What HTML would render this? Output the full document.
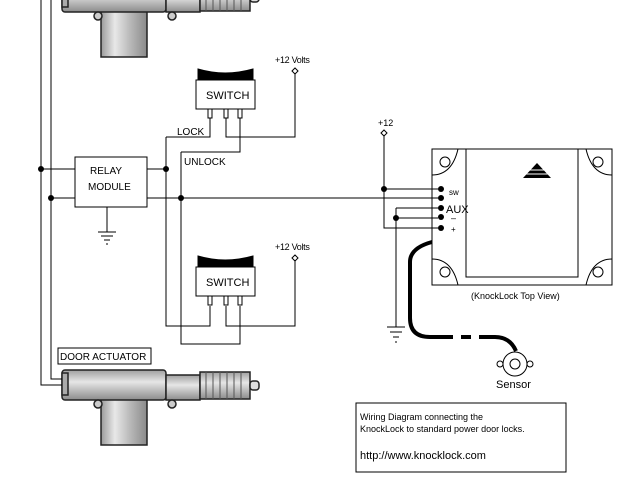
<!DOCTYPE html>
<html><head><style>body{margin:0;background:#fff}svg{display:block}text{font-family:"Liberation Sans",sans-serif;fill:#000}</style></head><body>
<svg width="640" height="480" viewBox="0 0 640 480" xmlns="http://www.w3.org/2000/svg">
<defs>
<linearGradient id="g" x1="0" y1="0" x2="1" y2="0"><stop offset="0" stop-color="#9a9a9a"/><stop offset="0.3" stop-color="#e8e8e8"/><stop offset="0.6" stop-color="#bdbdbd"/><stop offset="1" stop-color="#8a8a8a"/></linearGradient>
<linearGradient id="gv" x1="0" y1="0" x2="0" y2="1"><stop offset="0" stop-color="#a0a0a0"/><stop offset="0.4" stop-color="#e6e6e6"/><stop offset="1" stop-color="#8c8c8c"/></linearGradient>
<g id="act" stroke="#222" stroke-width="1.5">
<rect x="101" y="395" width="46" height="50" fill="url(#g)"/>
<rect x="62" y="370" width="104" height="30" fill="url(#gv)" rx="3"/>
<rect x="166" y="375" width="34" height="25" fill="url(#gv)"/>
<path d="M200 372 L250 372 L250 399 L200 399 Z" fill="url(#gv)"/>
<path d="M206 372v27M213 372v27M220 372v27M227 372v27M234 372v27M241 372v27" stroke="#555" stroke-width="1"/>
<rect x="250" y="381" width="9" height="9" rx="3" fill="#ddd"/>
<circle cx="98" cy="404" r="4" fill="#ccc"/><circle cx="172" cy="404" r="4" fill="#ccc"/>
<rect x="62" y="373" width="6" height="22" fill="#aaa"/>
</g>
<g id="sw" stroke="#000" fill="none">
<path d="M198 69 Q225 77 253 69 L253 79 L198 79 Z" fill="#000"/>
<rect x="196" y="80" width="59" height="29" fill="#fff"/>
<rect x="208" y="109" width="4" height="9" fill="#fff"/><rect x="224" y="109" width="4" height="9" fill="#fff"/><rect x="238" y="109" width="4" height="9" fill="#fff"/>
</g>
</defs>
<use href="#act" transform="translate(0,-388)"/>
<use href="#act"/>
<use href="#sw"/>
<use href="#sw" transform="translate(0,187)"/>
<text x="206" y="99" font-size="11">SWITCH</text>
<text x="206" y="286" font-size="11">SWITCH</text>
<g stroke="#000" stroke-width="1" fill="none">
<path d="M41 0V385H62M51 0V379H62"/>
<rect x="75" y="157" width="72" height="50" fill="#fff"/>
<path d="M41 169H75M147 169H166M51 198H75M147 198H438"/>
<path d="M107 207V232M98 232h18M101 236h12M104 240h6M106 244h2"/>
<path d="M166 137V326H210V306M166 137H210V118M181 152V344H240V306M181 152H240V118"/>
<path d="M226 118V137H295V74M226 306V326H295V261"/>
<path d="M292 71l3-3 3 3-3 3z M292 258l3-3 3 3-3 3z M381 133l3-3 3 3-3 3z" fill="#fff"/>
<path d="M384 136V228H438M384 189H438M396 208H438M396 218H438M396 208V327M387 327h18M390 332h12M393 337h6M395 342h2"/>
<rect x="432" y="149" width="180" height="136"/>
<rect x="466" y="149" width="112" height="128"/>
<path d="M432 175Q452 175 458 149M612 175Q592 175 586 149M432 259Q452 259 458 285M612 259Q592 259 586 285"/>
<circle cx="445" cy="162" r="5"/><circle cx="598" cy="162" r="5"/><circle cx="445" cy="272" r="5"/><circle cx="598" cy="272" r="5"/>
<rect x="58" y="348" width="93" height="16"/>
<rect x="356" y="403" width="210" height="69"/>
<circle cx="515" cy="364" r="12"/><circle cx="515" cy="364" r="5"/>
<circle cx="500" cy="364" r="3"/><circle cx="530" cy="364" r="3"/>
</g>
<g stroke="#000" stroke-width="4" fill="none">
<path d="M432 242Q410 248 410 262V318Q410 337 430 337H443"/>
<path d="M443 337H485" stroke-dasharray="10 8"/>
<path d="M485 337H495Q510 337 516 351"/>
</g>
<g fill="#000">
<circle cx="41" cy="169" r="3"/><circle cx="51" cy="198" r="3"/><circle cx="166" cy="169" r="3"/><circle cx="181" cy="198" r="3"/>
<circle cx="384" cy="189" r="3"/><circle cx="396" cy="218" r="3"/>
<circle cx="441" cy="189" r="3"/><circle cx="441" cy="198" r="3"/><circle cx="441" cy="208" r="3"/><circle cx="441" cy="217" r="3"/><circle cx="441" cy="228" r="3"/>
<path d="M537 163L523 178H551Z"/>
</g>
<path d="M527 170H547M524 174H550" stroke="#fff" stroke-width="1"/>
<text x="90" y="174" font-size="10">RELAY</text>
<text x="88" y="190" font-size="10">MODULE</text>
<text x="177" y="135" font-size="10">LOCK</text>
<text x="184" y="165" font-size="10">UNLOCK</text>
<text x="275" y="63" font-size="9" letter-spacing="-0.3">+12 Volts</text>
<text x="275" y="250" font-size="9" letter-spacing="-0.3">+12 Volts</text>
<text x="378" y="126" font-size="9">+12</text>
<text x="449" y="195" font-size="8">sw</text>
<text x="446" y="213" font-size="11">AUX</text>
<text x="451" y="221" font-size="9">–</text>
<text x="451" y="232" font-size="8">+</text>
<text x="471" y="299" font-size="9">(KnockLock Top View)</text>
<text x="496" y="388" font-size="11">Sensor</text>
<text x="60" y="360" font-size="10">DOOR ACTUATOR</text>
<text x="360" y="420" font-size="9">Wiring Diagram connecting the</text>
<text x="360" y="432" font-size="9">KnockLock to standard power door locks.</text>
<text x="360" y="459" font-size="11">http://www.knocklock.com</text>
</svg>
</body></html>
